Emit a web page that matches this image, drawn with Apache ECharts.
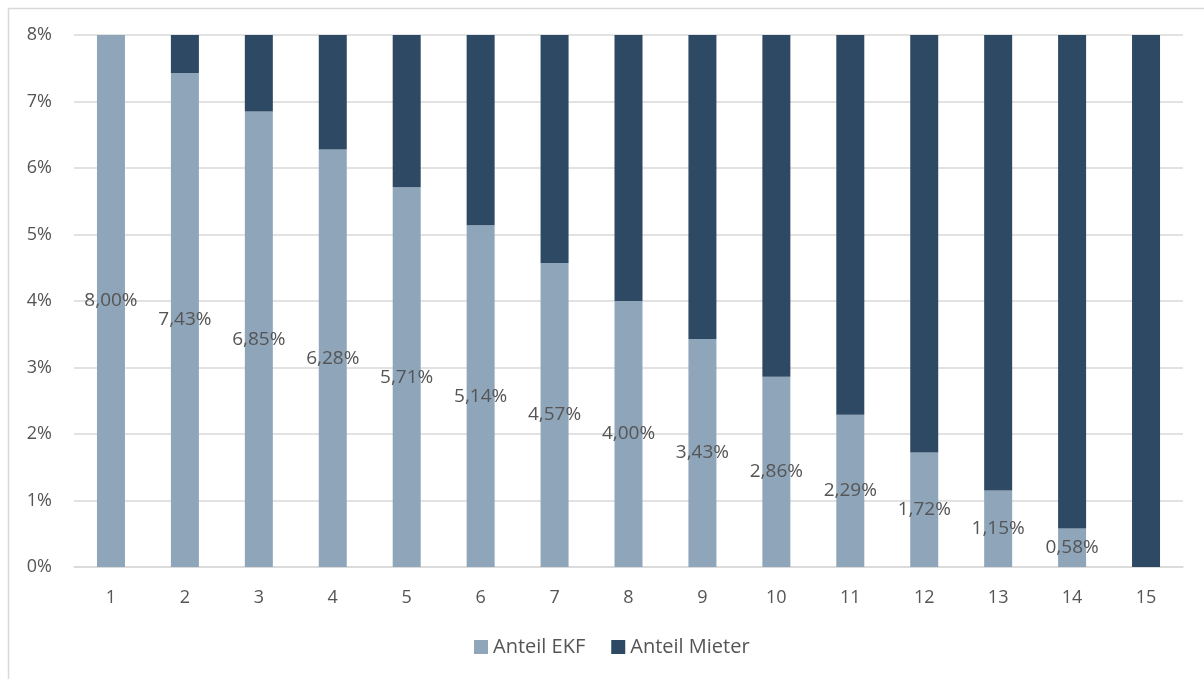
<!DOCTYPE html>
<html>
<head>
<meta charset="utf-8">
<script src="https://cdn.jsdelivr.net/npm/echarts@6/dist/echarts.min.js"></script>
<style>
  html, body { margin: 0; padding: 0; background: #ffffff; }
  #chart { width: 1204px; height: 679px; }
</style>
</head>
<body>
<div id="chart"></div>
<script>
// Years of the term
const categories = ['1', '2', '3', '4', '5', '6', '7', '8', '9', '10', '11', '12', '13', '14', '15'];
// Share carried by the EKF (percent)
const anteilEKF = [8.00, 7.43, 6.85, 6.28, 5.71, 5.14, 4.57, 4.00, 3.43, 2.86, 2.29, 1.72, 1.15, 0.58, 0];
// Share carried by the tenant (percent)
const anteilMieter = [0, 0.57, 1.15, 1.72, 2.29, 2.86, 3.43, 4.00, 4.57, 5.14, 5.71, 6.28, 6.85, 7.42, 8.00];
const seriesNames = ['Anteil EKF', 'Anteil Mieter'];

const FONT = '"Open Sans", sans-serif';
const TEXT = '#555555';
const GRIDLINE = '#d9d9d9';

const chart = echarts.init(document.getElementById('chart'), null, { renderer: 'canvas' });

chart.setOption({
  animation: false,
  backgroundColor: '#ffffff',
  textStyle: { fontFamily: FONT },
  graphic: [{
    type: 'rect',
    shape: { x: 8.5, y: 8.5, width: 1300, height: 800 },
    style: { fill: 'none', stroke: GRIDLINE, lineWidth: 1.5 },
    silent: true,
    z: -10
  }],
  grid: { left: 74, right: 21, top: 35, bottom: 112 },
  legend: {
    data: seriesNames,
    bottom: 17,
    left: 469,
    itemWidth: 14,
    itemHeight: 14,
    itemGap: 26,
    icon: 'rect',
    textStyle: { color: TEXT, fontSize: 20, fontFamily: FONT }
  },
  xAxis: {
    type: 'category',
    data: categories,
    axisLine: { lineStyle: { color: GRIDLINE, width: 1.5 } },
    axisTick: { show: false },
    axisLabel: { color: TEXT, fontSize: 18, margin: 22, fontFamily: FONT }
  },
  yAxis: {
    type: 'value',
    min: 0,
    max: 8,
    interval: 1,
    axisLine: { show: false },
    axisTick: { show: false },
    splitLine: { lineStyle: { color: GRIDLINE, width: 1.5 } },
    axisLabel: { color: TEXT, fontSize: 18, margin: 22, fontFamily: FONT, formatter: v => v + '%' }
  },
  series: [
    {
      name: seriesNames[0],
      type: 'bar',
      stack: 'total',
      data: anteilEKF,
      barWidth: 28,
      itemStyle: { color: '#8fa5ba' },
      label: {
        show: true,
        position: 'inside',
        color: TEXT,
        fontSize: 19,
        fontFamily: FONT,
        formatter: p => p.value > 0 ? p.value.toFixed(2).replace('.', ',') + '%' : ''
      }
    },
    {
      name: seriesNames[1],
      type: 'bar',
      stack: 'total',
      data: anteilMieter,
      barWidth: 28,
      itemStyle: { color: '#2d4963' }
    }
  ]
});
</script>
</body>
</html>
